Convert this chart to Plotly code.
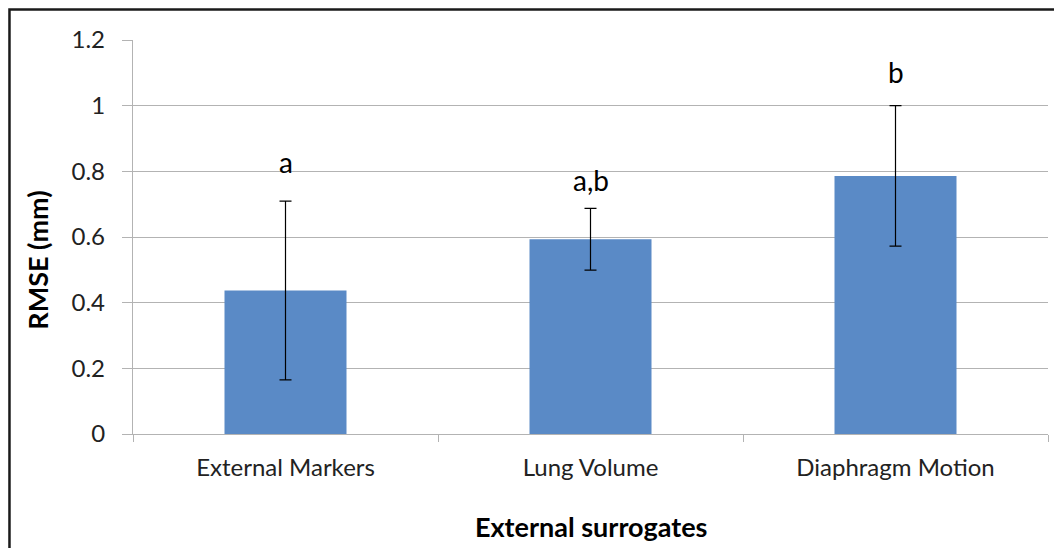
import plotly.graph_objects as go

categories = ["External Markers", "Lung Volume", "Diaphragm Motion"]
rmse = [0.437, 0.593, 0.786]
rmse_err = [0.272, 0.094, 0.214]
sig_labels = ["a", "a,b", "b"]
sig_label_y = [0.827, 0.773, 1.104]
y_ticks = [0, 0.2, 0.4, 0.6, 0.8, 1, 1.2]
y_ticktext = ["0", "0.2", "0.4", "0.6", "0.8", "1", "1.2"]

FONT = "Lato, 'Open Sans', sans-serif"
GRID = "#b3b3b3"

fig = go.Figure()
fig.add_trace(go.Bar(
    x=categories, y=rmse,
    marker=dict(color="#5A8AC6", line=dict(width=0)),
    error_y=dict(type="data", array=rmse_err, visible=True,
                 color="#000000", thickness=1.2, width=6),
    width=0.4,
    showlegend=False,
))

for c, lab, ly in zip(categories, sig_labels, sig_label_y):
    fig.add_annotation(x=c, y=ly, text=lab, showarrow=False,
                       font=dict(family=FONT, size=28, color="#000000"),
                       xref="x", yref="y", xanchor="center", yanchor="middle")

# axis titles as annotations
fig.add_annotation(x=-0.1038, y=0.44, xref="paper", yref="paper",
                   xanchor="center", yanchor="middle",
                   text="<b>RMSE (mm)</b>", textangle=-90, showarrow=False,
                   font=dict(family=FONT, size=27, color="#000000"))
fig.add_annotation(x=0.5, y=-0.236, xref="paper", yref="paper",
                   xanchor="center", yanchor="middle",
                   text="<b>External surrogates</b>", showarrow=False,
                   font=dict(family=FONT, size=27, color="#000000"))

# outer frame (cropped on right and bottom)
fig.add_shape(type="rect", xref="paper", yref="paper",
              x0=-0.135, x1=1.05, y0=-0.35, y1=1.0774,
              line=dict(color="#1a1a1a", width=2.5), fillcolor="rgba(0,0,0,0)",
              layer="above")

fig.update_layout(
    width=1054, height=540,
    margin=dict(l=125, r=14, t=32, b=114),
    paper_bgcolor="white", plot_bgcolor="white",
    bargap=0.6,
    font=dict(family=FONT, size=24, color="#222222"),
    xaxis=dict(
        showline=True, linecolor=GRID, linewidth=1.3,
        ticks="outside", tickson="boundaries", ticklen=7, tickcolor=GRID,
        tickfont=dict(family=FONT, size=24, color="#222222"),
        ticklabelstandoff=12,
        showgrid=False, zeroline=False,
    ),
    yaxis=dict(
        range=[0, 1.2], tickvals=y_ticks, ticktext=y_ticktext,
        showline=True, linecolor=GRID, linewidth=1.3,
        ticks="outside", ticklen=10, tickcolor=GRID,
        ticklabelstandoff=12,
        showgrid=True, gridcolor=GRID, gridwidth=1.3,
        zeroline=False,
        tickfont=dict(family=FONT, size=24, color="#222222"),
    ),
)

fig.write_html("out.html")
